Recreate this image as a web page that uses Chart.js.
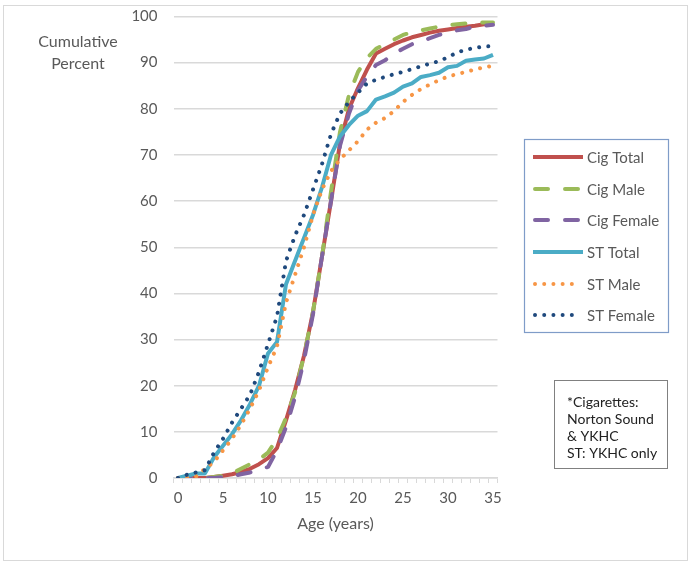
<!DOCTYPE html>
<html>
<head>
<meta charset="utf-8">
<script src="https://cdn.jsdelivr.net/npm/chart.js@4"></script>
<style>
  html, body { margin: 0; padding: 0; background: #ffffff; }
  #wrap { width: 694px; height: 566px; position: relative; }
</style>
</head>
<body>
<div id="wrap"><canvas id="chart"></canvas></div>
<script>
// Age of onset, cumulative percent
const ages = ['0','1','2','3','4','5','6','7','8','9','10','11','12','13','14','15','16','17',
  '18','19','20','21','22','23','24','25','26','27','28','29','30','31','32','33','34','35'];

const cigTotal  = [0,0,0,0,0.2,0.5,0.8,1.3,2,3,4.3,6.5,12.5,19,26.5,36,48,60,72.5,80,84.5,88.5,92,93,94,94.8,95.5,96,96.5,96.9,97.2,97.5,97.8,98,98.3,98.6];
const cigMale   = [0,0,0,0,0.2,0.5,1,2,3,4,5.5,8.5,13,18.5,26.5,36,48,62,75,83,88,91,93,94,95,96,96.6,97,97.4,97.8,98.1,98.3,98.5,98.6,98.7,98.7];
const cigFemale = [0,0,0,0,0,0.2,0.4,0.8,1.2,1.8,2.4,6,11,17.5,25.5,35.5,48,60,72,79,84,87,89.5,90.5,92,93,94,94.6,95.3,96,96.6,97,97.3,97.8,98,98.2];
const stTotal   = [0,0.5,1,1,4.5,7,9.5,12.5,16,20,27,29.5,42,47,52,57,63,70,74,76.5,78.5,79.5,82,82.7,83.5,84.8,85.5,86.9,87.3,87.8,89,89.3,90.4,90.7,90.9,91.7];
const stMale    = [0,0,0.3,2,3.5,6,8.5,11.5,15,19,24,28.5,38,44,50,57,62.5,66.5,69,71,73,75.5,77,78,79.5,81.5,83,84.3,85.3,86.2,87,87.5,88,88.5,89,89.3];
const stFemale  = [0,0.7,1.2,1.7,5.5,8.5,12,15,18,23,29,35,47,52.5,57,62.5,68,74.5,79,81.5,83.5,85.5,86.3,86.9,87.5,88,88.6,89.2,89.8,90.3,91.2,92.2,92.8,93.2,93.5,93.6];

const seriesNames = ['Cig Total', 'Cig Male', 'Cig Female', 'ST Total', 'ST Male', 'ST Female'];
const noteLines = ['*Cigarettes:', 'Norton Sound', '& YKHC', 'ST: YKHC only'];
const yTitleLines = ['Cumulative', 'Percent'];
const xTitle = 'Age (years)';

const textColor = '#595959';
const gridColor = '#d9d9d9';
const fontFamily = 'Lato, "Open Sans", sans-serif';

const DASH = [13, 17];
const DOT = [0.01, 9.2];

function makeSet(label, data, color, dash, order) {
  return {
    label: label,
    data: data,
    borderColor: color,
    backgroundColor: color,
    borderWidth: 4,
    borderDash: dash,
    borderCapStyle: dash.length ? 'round' : 'butt',
    borderJoinStyle: 'round',
    pointRadius: 0,
    tension: 0,
    fill: false,
    order: order
  };
}

const datasets = [
  makeSet(seriesNames[0], cigTotal, '#c0504d', [], 6),
  makeSet(seriesNames[1], cigMale, '#9bbb59', DASH, 5),
  makeSet(seriesNames[2], cigFemale, '#8064a2', DASH, 4),
  makeSet(seriesNames[3], stTotal, '#4bacc6', [], 3),
  makeSet(seriesNames[4], stMale, '#f79646', DOT, 2),
  makeSet(seriesNames[5], stFemale, '#1f497d', DOT, 1)
];

// Titles, legend box, note box and outer frame
const decorPlugin = {
  id: 'decor',
  afterDraw(chart) {
    const ctx = chart.ctx;
    const area = chart.chartArea;
    ctx.save();

    // outer frame
    ctx.strokeStyle = gridColor;
    ctx.lineWidth = 1;
    ctx.strokeRect(3.5, 5.5, 684, 555);

    // y title
    ctx.fillStyle = textColor;
    ctx.font = '16px ' + fontFamily;
    ctx.textAlign = 'center';
    ctx.textBaseline = 'middle';
    ctx.fillText(yTitleLines[0], 78, 42);
    ctx.fillText(yTitleLines[1], 78, 64);

    // x title
    ctx.fillText(xTitle, (area.left + area.right) / 2, 524);

    // legend
    ctx.strokeStyle = '#7f9cc8';
    ctx.lineWidth = 1.2;
    ctx.strokeRect(524.5, 139.5, 144, 193);
    const rowY = [157, 189, 220, 252, 284, 315];
    ctx.font = '15px ' + fontFamily;
    ctx.textAlign = 'left';
    chart.data.datasets.forEach((ds, i) => {
      const y = rowY[i];
      ctx.save();
      ctx.strokeStyle = ds.borderColor;
      ctx.lineWidth = ds.borderWidth;
      ctx.lineCap = ds.borderCapStyle;
      ctx.setLineDash(ds.borderDash);
      ctx.beginPath();
      if (ds.borderDash.length) {
        ctx.moveTo(535, y);
        ctx.lineTo(581, y);
      } else {
        ctx.moveTo(533, y);
        ctx.lineTo(583, y);
      }
      ctx.stroke();
      ctx.restore();
      ctx.fillStyle = textColor;
      ctx.fillText(ds.label, 587, y + 1);
    });

    // note box
    ctx.strokeStyle = '#808080';
    ctx.lineWidth = 1;
    ctx.strokeRect(554.5, 380.5, 113, 88);
    ctx.fillStyle = '#222222';
    ctx.font = '14px ' + fontFamily;
    noteLines.forEach((t, i) => ctx.fillText(t, 567, 402 + i * 17));

    ctx.restore();
  }
};

const ctx = document.getElementById('chart').getContext('2d');
new Chart(ctx, {
  type: 'line',
  data: { labels: ages, datasets: datasets },
  options: {
    responsive: true,
    maintainAspectRatio: false,
    animation: false,
    layout: { padding: { top: 16.5, left: 5, right: 196.5, bottom: 0 } },
    plugins: {
      legend: { display: false },
      tooltip: { enabled: false }
    },
    scales: {
      x: {
        type: 'category',
        offset: true,
        grid: {
          offset: true,
          drawOnChartArea: false,
          drawTicks: true,
          tickLength: 5,
          color: gridColor,
          lineWidth: 1
        },
        border: { display: true, color: gridColor, width: 1.5 },
        ticks: {
          autoSkip: false,
          maxRotation: 0,
          padding: 6,
          color: textColor,
          font: { family: fontFamily, size: 15 },
          callback: function(value, index) {
            return index % 5 === 0 ? this.getLabelForValue(value) : '';
          }
        },
        afterFit: function(scale) { scale.height = 88; }
      },
      y: {
        min: 0,
        max: 100,
        grid: { color: gridColor, lineWidth: 1.5, drawTicks: false },
        border: { display: false },
        ticks: {
          stepSize: 10,
          padding: 16,
          color: textColor,
          font: { family: fontFamily, size: 15 }
        },
        afterFit: function(scale) {
          scale.width = 168.5;
          scale.paddingTop = 0;
          scale.paddingBottom = 0;
        }
      }
    }
  },
  plugins: [decorPlugin]
});
</script>
</body>
</html>
